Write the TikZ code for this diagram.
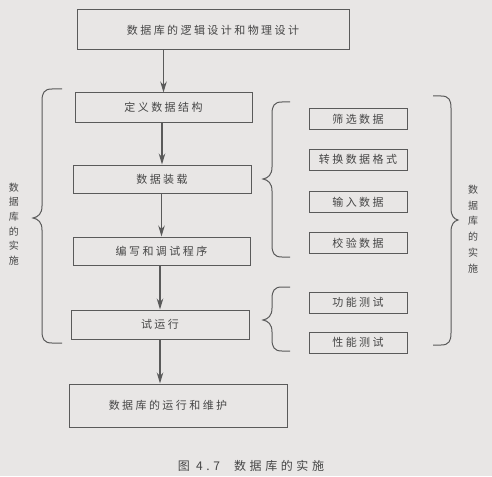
\documentclass[tikz,border=0pt]{standalone}
\usepackage{fontspec}
\setmainfont{Noto Sans CJK SC}
\newfontfamily\cjk[LetterSpace=22]{Noto Sans CJK SC}
\newfontfamily\cjkcap[LetterSpace=30]{Noto Sans CJK SC}
\usetikzlibrary{arrows.meta}
\definecolor{bg}{RGB}{232,230,229}
\definecolor{ln}{RGB}{90,90,90}
\definecolor{tx}{RGB}{70,70,70}
\tikzset{
  box/.style={draw=ln, line width=1pt, text=tx, font=\cjk\fontsize{11}{13}\selectfont, inner sep=0pt},
  sbox/.style={box, minimum width=98pt, minimum height=21pt},
  flow/.style={draw=ln, line width=1.2pt, -{Stealth[length=11pt,width=6.5pt]}},
  brace/.style={draw=ln, line width=1pt},
  vlab/.style={text=tx, font=\cjk\fontsize{10}{14.7}\selectfont, align=center, inner sep=0pt}
}
\begin{document}
\begin{tikzpicture}[x=1pt,y=-1pt]
\fill[bg] (0,0) rectangle (492,476);
\useasboundingbox (0,0) rectangle (492,476);
% main boxes
\node[box, minimum width=272pt, minimum height=40pt] (top) at (213,30) {数据库的逻辑设计和物理设计};
\node[box, minimum width=177pt, minimum height=29pt] (b2) at (163.5,107.5) {定义数据结构};
\node[box, minimum width=178pt, minimum height=28pt] (b3) at (162,179) {数据装载};
\node[box, minimum width=177pt, minimum height=28pt] (b4) at (161.5,251) {编写和调试程序};
\node[box, minimum width=178pt, minimum height=29pt] (b5) at (160,324.5) {试运行};
\node[box, minimum width=218pt, minimum height=43pt] (b6) at (178,405.5) {\hspace*{-20pt}数据库的运行和维护};
% small boxes
\node[sbox] (s1) at (358,119) {筛选数据};
\node[sbox] (s2) at (358,159.5) {转换数据格式};
\node[sbox] (s3) at (358,202) {输入数据};
\node[sbox] (s4) at (358,243) {校验数据};
\node[sbox] (s5) at (358,302.5) {功能测试};
\node[sbox] (s6) at (358,342.5) {性能测试};
% arrows
\draw[flow] (b2.north |- top.south) -- (b2.north);
\draw[flow] (b3.north |- b2.south) -- (b3.north);
\draw[flow] (b4.north |- b3.south) -- (b4.north);
\draw[flow] (b5.north |- b4.south) -- (b5.north);
\draw[flow] (b5.south) -- (b5.south |- b6.north);
% left brace
\draw[brace] (62,89) -- (52,89) .. controls (44,89) and (42,93) .. (42,101)
  -- (42,206) .. controls (42,214) and (38,217) .. (33,218)
  .. controls (38,219) and (42,222) .. (42,230)
  -- (42,331) .. controls (42,339) and (44,343) .. (52,343) -- (62,343);
\node[vlab] (lt) at (14,224) {数\\据\\库\\的\\实\\施};
% right brace 1
\draw[brace] (290,102) -- (282,102) .. controls (274,102) and (272,106) .. (272,114)
  -- (272,167) .. controls (272,175) and (268,178) .. (263,179)
  .. controls (268,180) and (272,183) .. (272,191)
  -- (272,245) .. controls (272,253) and (274,257) .. (282,257) -- (290,257);
% right brace 2
\draw[brace] (290,287) -- (282,287) .. controls (274,287) and (272,291) .. (272,299)
  -- (272,308) .. controls (272,316) and (268,319) .. (263,320)
  .. controls (268,321) and (272,324) .. (272,332)
  -- (272,339) .. controls (272,347) and (274,351) .. (282,351) -- (290,351);
% big right brace
\draw[brace] (433,96) -- (441,96) .. controls (449,96) and (451,100) .. (451,108)
  -- (451,208) .. controls (451,216) and (454,219) .. (458,220)
  .. controls (454,221) and (451,224) .. (451,232)
  -- (451,333) .. controls (451,341) and (449,345) .. (441,345) -- (433,345);
\node[vlab, font=\cjk\fontsize{10}{15.7}\selectfont] (rt) at (473,229) {数\\据\\库\\的\\实\\施};
% caption
\node[text=tx, font=\cjkcap\fontsize{12}{14}\selectfont, inner sep=0pt] (cap) at (251,466) {图 4.7\hspace{14pt}数据库的实施};
\end{tikzpicture}
\end{document}
